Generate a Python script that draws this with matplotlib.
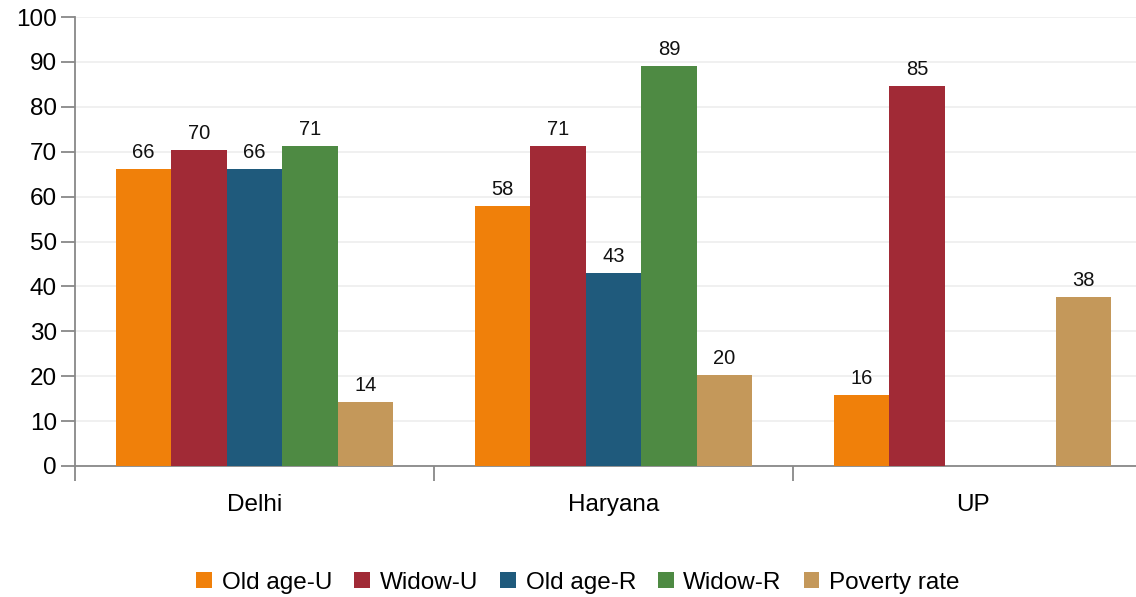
import numpy as np
import matplotlib
matplotlib.use("Agg")
import matplotlib.pyplot as plt

plt.rcParams["font.family"] = ["Liberation Sans", "DejaVu Sans"]

states = ["Delhi", "Haryana", "UP"]
series = ["Old age-U", "Widow-U", "Old age-R", "Widow-R", "Poverty rate"]
colors = ["#F0800A", "#A12A36", "#1F5A7C", "#4E8A43", "#C4985A"]

old_age_u = [66.1, 57.9, 15.8]
widow_u = [70.4, 71.3, 84.6]
old_age_r = [66.1, 43.0, None]
widow_r = [71.3, 89.1, None]
poverty = [14.3, 20.3, 37.6]

values = [old_age_u, widow_u, old_age_r, widow_r, poverty]


def main():
    fig = plt.figure(figsize=(11.36, 5.97), dpi=100)
    ax = fig.add_axes([75 / 1136, 131 / 597, 1077 / 1136, 449 / 597])

    x = np.arange(len(states)) + 0.5
    width = 0.1546
    for i, (name, vals, col) in enumerate(zip(series, values, colors)):
        offs = (i - 2) * width
        for xi, v in zip(x, vals):
            if v is None:
                continue
            ax.bar(xi + offs, v, width, color=col, linewidth=0, zorder=3)
            ax.text(xi + offs, v + 1.6, f"{v:.0f}", ha="center", va="bottom",
                    fontsize=14.5, color="#111111")
        ax.bar(np.nan, 0, color=col, label=name)

    ax.set_xlim(0, 3)
    ax.set_ylim(0, 100)
    ax.set_yticks(range(0, 101, 10))
    ax.yaxis.grid(True, color="#EEEEEE", linewidth=1.2, zorder=0)

    ax.set_xticks(x)
    ax.set_xticklabels(states)
    ax.set_xticks([0, 1, 2, 3], minor=True)
    ax.tick_params(axis="x", which="major", length=0, pad=20, labelsize=17.5)
    ax.tick_params(axis="x", which="minor", length=11, width=1.3,
                   color="#888888", direction="out")
    ax.tick_params(axis="y", length=10, width=1.3, color="#888888",
                   labelsize=17.5, pad=3)

    for side in ["top", "right"]:
        ax.spines[side].set_visible(False)
    for side in ["left", "bottom"]:
        ax.spines[side].set_color("#888888")
        ax.spines[side].set_linewidth(1.3)

    ax.legend(loc="center", bbox_to_anchor=(503 / 1077, -0.26), ncol=5,
              frameon=False, fontsize=17.5, handlelength=0.65, handleheight=0.65,
              handletextpad=0.4, columnspacing=0.9)

    fig.savefig("out.png", dpi=100)
    plt.close(fig)


if __name__ == "__main__":
    main()
